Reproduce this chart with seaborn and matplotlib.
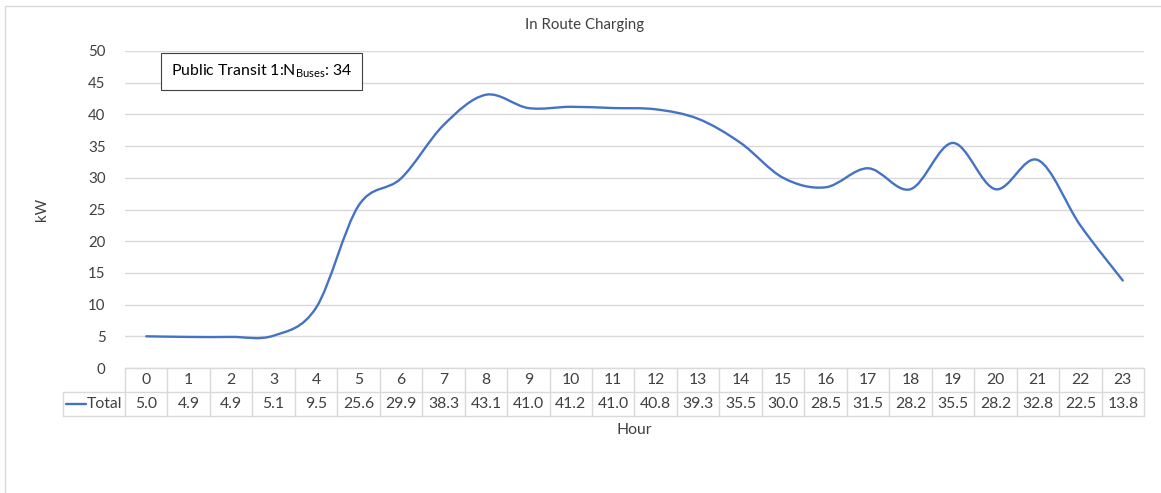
import matplotlib
matplotlib.use("Agg")
import matplotlib.pyplot as plt
from matplotlib.path import Path
from matplotlib.patches import PathPatch, Rectangle
import numpy as np
import seaborn as sns

hours = list(range(24))
total = [5.0, 4.9, 4.9, 5.1, 9.5, 25.6, 29.9, 38.3, 43.1, 41.0, 41.2, 41.0,
         40.8, 39.3, 35.5, 30.0, 28.5, 31.5, 28.2, 35.5, 28.2, 32.8, 22.5, 13.8]
yticks = [0, 5, 10, 15, 20, 25, 30, 35, 40, 45, 50]

sns.set_theme(style="white")
plt.rcParams["font.family"] = ["Lato", "DejaVu Sans"]

blue = "#4472C4"
grid_c = "#d9d9d9"
txt_c = "#404040"

fig = plt.figure(figsize=(11.61, 4.93), dpi=100)
ax = fig.add_axes([125 / 1161, 1 - 368 / 493, 1019 / 1161, 317 / 493])

# smoothed line (Excel style) as cubic bezier through the data points
x = np.array(hours, dtype=float)
y = np.array(total, dtype=float)
verts = [(x[0], y[0])]
codes = [Path.MOVETO]
n = len(x)
for i in range(n - 1):
    p0 = (x[max(i - 1, 0)], y[max(i - 1, 0)])
    p1 = (x[i], y[i])
    p2 = (x[i + 1], y[i + 1])
    p3 = (x[min(i + 2, n - 1)], y[min(i + 2, n - 1)])
    c1 = (p1[0] + (p2[0] - p0[0]) / 6, p1[1] + (p2[1] - p0[1]) / 6)
    c2 = (p2[0] - (p3[0] - p1[0]) / 6, p2[1] - (p3[1] - p1[1]) / 6)
    verts += [c1, c2, p2]
    codes += [Path.CURVE4] * 3
ax.add_patch(PathPatch(Path(verts, codes), facecolor="none", edgecolor=blue,
                       lw=1.7, zorder=3, capstyle="round"))

ax.set_xlim(-0.5, 23.5)
ax.set_ylim(0, 50)
ax.set_yticks(yticks)
ax.set_xticks([])
ax.yaxis.grid(True, color=grid_c, lw=1)
ax.set_axisbelow(True)
for s in ax.spines.values():
    s.set_visible(False)
ax.tick_params(axis="y", length=0, pad=14, labelsize=10.8, labelcolor=txt_c)
ax.set_ylabel("kW", fontsize=10.8, color=txt_c, labelpad=28)

# data table below the plot
tr = ax.get_xaxis_transform()
r1 = -24 / 317
r2 = -48 / 317
left = -1.96
kw = dict(transform=tr, clip_on=False, color=grid_c, lw=1)
ax.plot([-0.5, 23.5], [0, 0], **kw)
ax.plot([left, 23.5], [r1, r1], **kw)
ax.plot([left, 23.5], [r2, r2], **kw)
ax.plot([left, left], [r1, r2], **kw)
for b in np.arange(-0.5, 24, 1):
    ax.plot([b, b], [0, r2], **kw)
for h, v in zip(hours, total):
    ax.text(h, r1 / 2, str(h), transform=tr, ha="center", va="center",
            fontsize=11.3, color=txt_c)
    ax.text(h, (r1 + r2) / 2, f"{v:.1f}", transform=tr, ha="center",
            va="center", fontsize=11.3, color=txt_c)
ax.plot([-1.89, -1.42], [(r1 + r2) / 2] * 2, transform=tr, clip_on=False,
        color=blue, lw=1.7)
ax.text(-1.40, (r1 + r2) / 2, "Total", transform=tr, ha="left", va="center",
        fontsize=11.3, color=txt_c)

ax.text(11.5, -62 / 317, "Hour", transform=tr, ha="center", va="center",
        fontsize=11.3, color=txt_c)

# annotation box
ax.text(0.0447, 0.964, "Public Transit 1:N$_{\\mathregular{Buses}}$: 34",
        transform=ax.transAxes, ha="left", va="top", fontsize=11.4,
        color="black",
        bbox=dict(boxstyle="square,pad=0.6", facecolor="white",
                  edgecolor="#404040", lw=0.8))

fig.text(585 / 1161, 1 - 25 / 493, "In Route Charging", ha="center",
         va="center", fontsize=10.8, color=txt_c)

fig.patches.append(Rectangle((5 / 1161, -0.1), 1.2, 1 - 6 / 493 + 0.1,
                             transform=fig.transFigure, fill=False,
                             edgecolor=grid_c, lw=1))

fig.savefig("out.png", dpi=100)
